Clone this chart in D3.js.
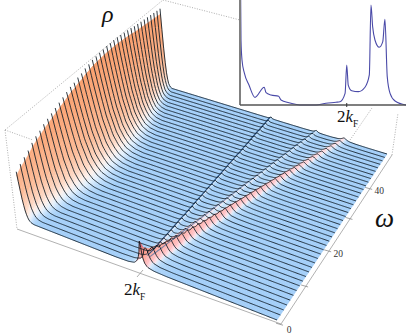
<!DOCTYPE html>
<html>
<head>
<meta charset="utf-8">
<script src="https://cdn.jsdelivr.net/npm/d3@7"></script>
<style>
html, body { margin: 0; padding: 0; background: #fff; }
svg { display: block; }
</style>
</head>
<body>
<svg id="chart" width="407" height="334"></svg>
<script>
// one entry per spectrum row, front (low omega) to back
const wallRho = [.50,.54,.57,.60,.64,.67,.69,.72,.74,.76,.78,.80,.82,.84,.86,.87,.89,.90,.92,.93,.945,.95,.955,.96,.965,.965,.965,.965,.96,.955,.95,.945,.935,.93,.925,.92,.915,.91,.905,.90,.895];
const wallWidth = [.3,.4,.45,.5,.55,.6,.65,.7,.75,.8,.85,.9,.95,1,1,1,1,1,1,1,1,.98,.96,.94,.92,.9,.87,.84,.8,.76,.72,.68,.63,.58,.53,.48,.43,.38,.33,.28,.22];
const ridge1K = [.497,.497,.497,.498,.498,.498,.498,.499,.499,.499,.499,.499,.500,.500,.500,.500,.500,.501,.501,.501,.501,.501,.501,.502,.502,.502,.502,.502,.502,.503,.503,.503,.503,.503,.503,.503,.504,.504,.504,.504,.504];
const ridge2K = [.497,.502,.507,.512,.518,.523,.528,.533,.538,.543,.549,.554,.559,.564,.569,.574,.579,.585,.590,.595,.600,.605,.610,.615,.621,.626,.631,.636,.641,.646,.651,.657,.662,.667,.672,.677,.682,.687,.693,.698,.703];
const ridge3K = [.497,.506,.515,.524,.533,.541,.549,.557,.565,.573,.581,.589,.597,.605,.613,.621,.628,.636,.644,.652,.660,.668,.676,.684,.692,.700,.708,.716,.724,.733,.741,.749,.757,.765,.773,.781,.789,.798,.806,.814,.822];
const ridge1Rho = [.16,.06,.04,.035,.03,.03,.03,.03,.028,.028,.028,.028,.025,.025,.025,.025,.025,.025,.025,.025,.022,.022,.022,.022,.022,.022,.022,.02,.02,.02,.02,.02,.02,.02,.02,.02,.02,.02,.02,.02,.02];
const ridge2Rho = [.03,.035,.035,.035,.035,.035,.035,.032,.032,.032,.032,.032,.03,.03,.03,.03,.03,.03,.03,.03,.028,.028,.028,.028,.028,.028,.028,.026,.026,.026,.026,.026,.026,.025,.025,.025,.025,.025,.025,.025,.025];
const ridge3Rho = [.10,.12,.115,.11,.105,.10,.095,.09,.088,.086,.084,.082,.08,.078,.076,.074,.072,.07,.068,.066,.065,.064,.062,.06,.058,.056,.055,.054,.052,.05,.048,.046,.045,.044,.042,.04,.04,.038,.036,.036,.035];

// line shapes: distance from the wall / from a peak -> relative height
const wallOffsets = [0,.015,.03,.045,.07,.09,.11,.14,.18];
const wallRel = [1,.78,.58,.4,.2,.11,.05,.015,0];
const peakOffsets = [-.05,-.025,-.012,-.007,-.003,0,.003,.007,.012,.025,.05];
const peakRel = [0,.05,.18,.4,.72,1,.72,.4,.18,.05,0];

// inset spectrum
const insetK = [.004,.006,.012,.026,.054,.090,.146,.157,.187,.233,.247,.295,.378,.458,.518,.578,.602,.633,.643,.652,.673,.713,.753,.779,.789,.799,.813,.839,.860,.873,.887,.904,.934,1];
const insetRho = [1,.619,.429,.305,.19,.073,.169,.117,.095,.083,.048,.022,0,0,.016,.026,.031,.111,.381,.19,.136,.127,.169,.286,.952,.746,.619,.55,.603,.816,.27,.111,.038,0];

const omegaTicks = [0,10,20,30,40];
const omegaLabels = [0,20,40];

const nRows = wallRho.length;
const kGrid = d3.range(0, 1.0001, 0.004);

const svg = d3.select("#chart");

const wallShape = d3.scaleLinear().domain(wallOffsets).range(wallRel).clamp(true);
const peakShape = d3.scaleLinear().domain(peakOffsets).range(peakRel).clamp(true);
const omegaScale = d3.scaleLinear().domain([0.6, 52]).range([0, 1]);

const wallColor = d3.scaleLinear()
    .domain([0, .015, .04, .08, .14, .3, .6, 1])
    .range(["#a0cdf8", "#bcdcfb", "#e4f1fd", "#fdf0ea", "#fdd8c4", "#fcbc98", "#fba97c", "#f99c68"])
    .clamp(true);
const ridgeColor = d3.scaleLinear()
    .domain([0, .012, .02, .028, .045, .12, .25])
    .range(["#a0cdf8", "#b8dafa", "#dcecfb", "#fde0e6", "#ffc2c6", "#ff9f8c", "#c8587a"])
    .clamp(true);

// floor corners on screen: (k,v) = (0,0) (1,0) (1,1) (0,1)
const floor = [[22,220],[277,320],[387,154],[164,86]];
const vanish = [285, 2416];  // where the vertical edges of the box meet
const rhoPx = -0.043;

const H = (function() {
    const [p0, p1, p2, p3] = floor;
    const dx1 = p1[0]-p2[0], dx2 = p3[0]-p2[0], sx = p0[0]-p1[0]+p2[0]-p3[0];
    const dy1 = p1[1]-p2[1], dy2 = p3[1]-p2[1], sy = p0[1]-p1[1]+p2[1]-p3[1];
    const det = dx1*dy2 - dx2*dy1;
    const g = (sx*dy2 - dx2*sy)/det;
    const h = (dx1*sy - sx*dy1)/det;
    return {
        a: p1[0]-p0[0]+g*p1[0], b: p3[0]-p0[0]+h*p3[0], c: p0[0],
        d: p1[1]-p0[1]+g*p1[1], e: p3[1]-p0[1]+h*p3[1], f: p0[1],
        g: g, h: h
    };
})();

function project(k, v, rho) {
    const q = rho*rhoPx;
    const w = H.g*k + H.h*v + 1 + q;
    return [
        (H.a*k + H.b*v + H.c + q*vanish[0])/w,
        (H.d*k + H.e*v + H.f + q*vanish[1])/w
    ];
}

function wallPart(i, k) {
    return wallRho[i]*wallShape(k/wallWidth[i]);
}
function ridgePart(i, k) {
    return ridge1Rho[i]*peakShape((k-ridge1K[i])/0.6)
        + ridge2Rho[i]*peakShape((k-ridge2K[i])/1.1)
        + ridge3Rho[i]*peakShape((k-ridge3K[i])/2.0);
}

const rowV = d3.range(nRows).map(i => i/(nRows-1));
const heights = rowV.map((v, i) => kGrid.map(k => wallPart(i, k) + ridgePart(i, k)));

// box behind the surface
const frame = {
    topLeft: [5,130], topBack: [163,0], topBackEnd: [240,20], topInner: [33,140],
    frontLeft: [17,229], frontRight: [281,324], backRight: [392,155],
    backRightUp: [398,113], rearFoot: [350,140], rearUp: [372,108]
};
const boxDotted = [
    [frame.topLeft, frame.topBack],
    [frame.topBack, frame.topBackEnd],
    [frame.topLeft, frame.topInner],
    [frame.topLeft, frame.frontLeft],
    [frame.backRight, frame.backRightUp],
    [frame.rearFoot, frame.rearUp]
];
svg.append("g").selectAll("line")
    .data(boxDotted)
    .enter().append("line")
    .attr("x1", d => d[0][0]).attr("y1", d => d[0][1])
    .attr("x2", d => d[1][0]).attr("y2", d => d[1][1])
    .attr("stroke", "#999")
    .attr("stroke-width", 0.8)
    .attr("stroke-dasharray", "1 1.5");

const boxSolid = [[frame.frontLeft, frame.frontRight], [frame.frontRight, frame.backRight]];
svg.append("g").selectAll("line")
    .data(boxSolid)
    .enter().append("line")
    .attr("x1", d => d[0][0]).attr("y1", d => d[0][1])
    .attr("x2", d => d[1][0]).attr("y2", d => d[1][1])
    .attr("stroke", "#a8a8a8")
    .attr("stroke-width", 0.9);

// surface patches, painted back to front
const patches = [];
for (let i = nRows-2; i >= 0; i--) {
    for (let j = 0; j < kGrid.length-1; j++) {
        patches.push({i: i, j: j});
    }
}
const lineGen = d3.line();
const wallTopCut = 0.93;  // lets the row lines stick out as a saw edge

function patchColor(d) {
    const {i, j} = d;
    const k = (kGrid[j]+kGrid[j+1])/2;
    const w = (wallPart(i, k)+wallPart(i+1, k))/2;
    const r = (ridgePart(i, k)+ridgePart(i+1, k))/2;
    return r > w ? ridgeColor(r) : wallColor(w);
}

svg.append("g").selectAll("path")
    .data(patches)
    .enter().append("path")
    .attr("d", d => {
        const {i, j} = d;
        const cut = jj => (jj === 0 ? wallTopCut : 1);
        return lineGen([
            project(kGrid[j], rowV[i+1], heights[i+1][j]*cut(j)),
            project(kGrid[j+1], rowV[i+1], heights[i+1][j+1]),
            project(kGrid[j+1], rowV[i], heights[i][j+1]),
            project(kGrid[j], rowV[i], heights[i][j]*cut(j))
        ]) + "Z";
    })
    .attr("fill", patchColor)
    .attr("stroke", patchColor)
    .attr("stroke-width", 0.5);

// dark left flanks of the two narrow ridges
function flank(ks, rhos, skip) {
    return lineGen(d3.range(skip, nRows).map(i => project(ks[i]-0.005, rowV[i], rhos[i]*0.5)));
}
svg.append("path")
    .attr("d", flank(ridge1K, ridge1Rho, 2))
    .attr("fill", "none").attr("stroke", "#123f75").attr("stroke-width", 1.2).attr("stroke-opacity", 0.85);
svg.append("path")
    .attr("d", flank(ridge2K, ridge2Rho, 2))
    .attr("fill", "none").attr("stroke", "#2a629c").attr("stroke-width", 1.2).attr("stroke-opacity", 0.6);

// the row lines
svg.append("g").selectAll("path")
    .data(d3.range(nRows))
    .enter().append("path")
    .attr("d", i => lineGen(kGrid.map((k, j) => project(k, rowV[i], heights[i][j]))))
    .attr("fill", "none")
    .attr("stroke", "#0d1822")
    .attr("stroke-width", 0.95)
    .attr("stroke-opacity", 0.9)
    .attr("stroke-linejoin", "round");

// omega axis, along the front-right box edge
const axisK = 1.016;
const axisG = svg.append("g");
axisG.selectAll("line")
    .data(omegaTicks)
    .enter().append("line")
    .attr("x1", d => project(axisK, omegaScale(d), 0)[0]-4)
    .attr("y1", d => project(axisK, omegaScale(d), 0)[1]-1)
    .attr("x2", d => project(axisK, omegaScale(d), 0)[0]+3)
    .attr("y2", d => project(axisK, omegaScale(d), 0)[1]+1)
    .attr("stroke", "#8a8a8a")
    .attr("stroke-width", 0.8);
axisG.selectAll("text")
    .data(omegaLabels)
    .enter().append("text")
    .attr("x", d => project(axisK, omegaScale(d), 0)[0]+(d === 0 ? 9 : 10))
    .attr("y", d => project(axisK, omegaScale(d), 0)[1]+(d === 0 ? 9 : 6))
    .attr("text-anchor", "middle")
    .attr("font-family", "Liberation Serif")
    .attr("font-size", 9.5)
    .attr("fill", "#333")
    .text(d => d);

// 2kF tick on the front edge
svg.append("line")
    .attr("x1", 143).attr("y1", 270).attr("x2", 137).attr("y2", 277)
    .attr("stroke", "#999").attr("stroke-width", 0.8);

function addKf(x, y, size) {
    const t = svg.append("text")
        .attr("x", x).attr("y", y)
        .attr("font-family", "Liberation Serif")
        .attr("font-size", size)
        .attr("fill", "#111");
    t.append("tspan").text("2");
    t.append("tspan").attr("font-style", "italic").text("k");
    t.append("tspan").attr("dy", size*0.3).attr("font-size", size*0.55).text("F");
}
addKf(124, 295, 17);

svg.append("text")
    .attr("x", 102).attr("y", 22)
    .attr("font-family", "Liberation Serif").attr("font-style", "italic")
    .attr("font-size", 24).attr("fill", "#111")
    .text("ρ");
svg.append("text")
    .attr("x", 375).attr("y", 227)
    .attr("font-family", "Liberation Serif").attr("font-style", "italic")
    .attr("font-size", 27).attr("fill", "#111")
    .text("ω");

// inset
const insetX = d3.scaleLinear().domain([0, 1]).range([240, 406]);
const insetY = d3.scaleLinear().domain([0, 1]).range([105, 0]);
const inset = svg.append("g");
inset.append("rect")
    .attr("x", insetX(0)).attr("y", insetY(1))
    .attr("width", insetX(1)-insetX(0)).attr("height", insetY(0)-insetY(1))
    .attr("fill", "#fff");
inset.append("path")
    .attr("d", d3.line()
        .x((d, i) => insetX(insetK[i]))
        .y(d => insetY(d))
        .curve(d3.curveMonotoneX)(insetRho))
    .attr("fill", "none")
    .attr("stroke", "#4a4aa8")
    .attr("stroke-width", 1.1);
inset.append("line")
    .attr("x1", insetX(0)).attr("y1", insetY(1)).attr("x2", insetX(0)).attr("y2", insetY(0))
    .attr("stroke", "#808080").attr("stroke-width", 2);
inset.append("line")
    .attr("x1", insetX(0)).attr("y1", insetY(0)).attr("x2", insetX(1)).attr("y2", insetY(0))
    .attr("stroke", "#555").attr("stroke-width", 1.3);
inset.append("line")
    .attr("x1", insetX(.643)).attr("y1", insetY(0)-2).attr("x2", insetX(.643)).attr("y2", insetY(0)+2)
    .attr("stroke", "#333").attr("stroke-width", 1);
addKf(337, 122, 17);
</script>
</body>
</html>
